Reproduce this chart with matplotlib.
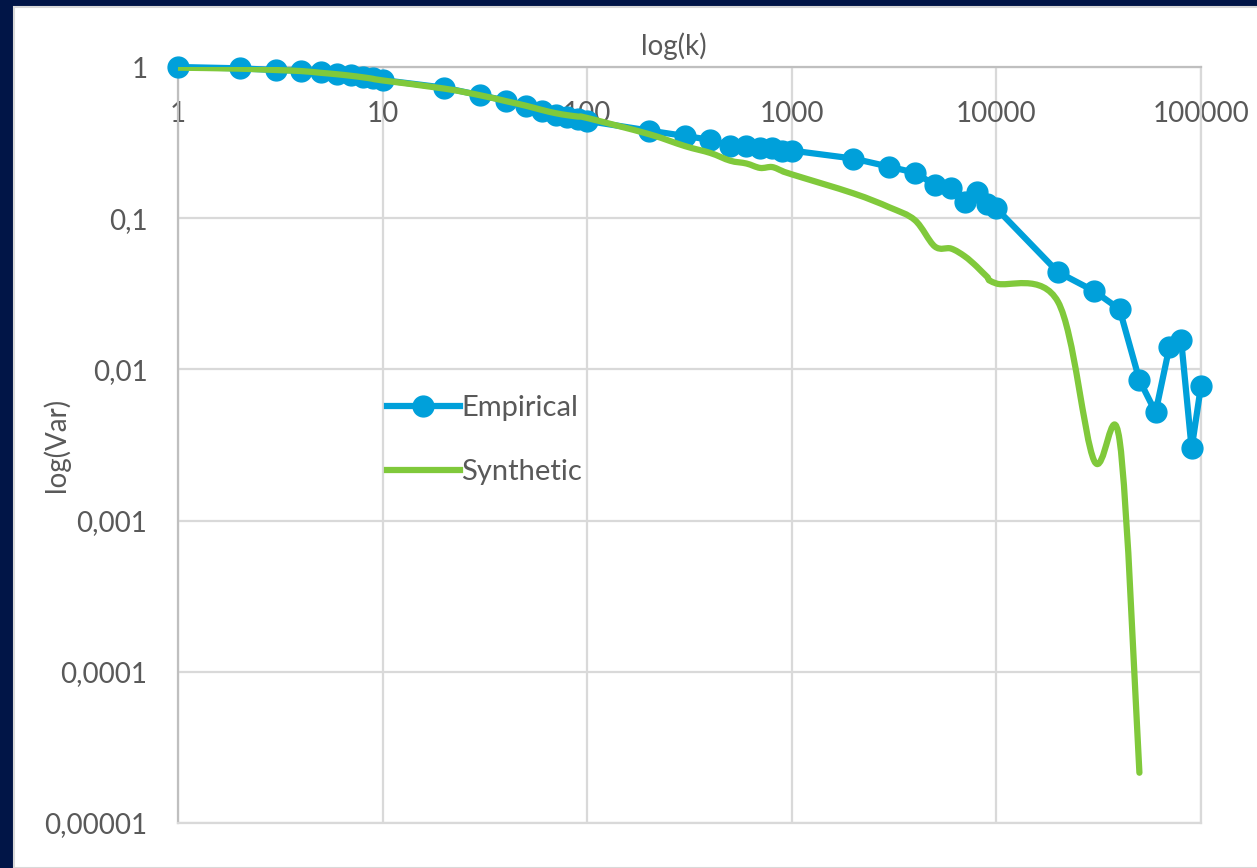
import numpy as np
import matplotlib
matplotlib.use("Agg")
import matplotlib.pyplot as plt
from matplotlib.path import Path
from matplotlib.patches import PathPatch, Rectangle
from matplotlib.lines import Line2D
from matplotlib.ticker import FixedLocator, FixedFormatter, NullLocator

# k values (log axis)
k_emp = [1, 2, 3, 4, 5, 6, 7, 8, 9, 10,
         20, 30, 40, 50, 60, 70, 80, 90, 100,
         200, 300, 400, 500, 600, 700, 800, 900, 1000,
         2000, 3000, 4000, 5000, 6000, 7000, 8000, 9000, 10000,
         20000, 30000, 40000, 50000, 60000, 70000, 80000, 90000, 100000]
var_emp = [1.0, 0.98, 0.955, 0.945, 0.92, 0.90, 0.88, 0.86, 0.84, 0.82,
           0.73, 0.65, 0.60, 0.55, 0.51, 0.48, 0.47, 0.45, 0.44,
           0.38, 0.35, 0.33, 0.30, 0.30, 0.29, 0.29, 0.28, 0.28,
           0.248, 0.219, 0.20, 0.166, 0.158, 0.128, 0.149, 0.125, 0.116,
           0.044, 0.033, 0.025, 0.0085, 0.0052, 0.014, 0.0156, 0.0030, 0.0078]

k_syn = [1, 2, 3, 4, 5, 6, 7, 8, 9, 10,
         20, 30, 40, 50, 60, 70, 80, 90, 100,
         200, 300, 400, 500, 600, 700, 800, 900, 1000,
         2000, 3000, 4000, 5000, 6000, 7000, 8000, 9000, 10000,
         20000, 30000, 40000, 50000]
var_syn = [0.99, 0.975, 0.955, 0.94, 0.915, 0.895, 0.875, 0.855, 0.835, 0.815,
           0.72, 0.65, 0.595, 0.555, 0.52, 0.495, 0.48, 0.47, 0.46,
           0.36, 0.30, 0.27, 0.24, 0.23, 0.215, 0.218, 0.205, 0.195,
           0.146, 0.118, 0.097, 0.065, 0.063, 0.056, 0.048, 0.041, 0.037,
           0.028, 0.0025, 0.0034, 0.0000215]

x_ticks = [1, 10, 100, 1000, 10000, 100000]
x_labels = ['1', '10', '100', '1000', '10000', '100000']
y_ticks = [0.00001, 0.0001, 0.001, 0.01, 0.1, 1]
y_labels = ['0,00001', '0,0001', '0,001', '0,01', '0,1', '1']

BLUE = '#00a0da'
GREEN = '#80c93b'
TXT = '#595959'
NAVY = '#011547'

plt.rcParams['font.family'] = ['Lato', 'DejaVu Sans']


def smooth_path(x, y):
    # excel style smoothed line: cubic bezier through the points in log space
    p = np.column_stack([np.log10(x), np.log10(y)])
    n = len(p)
    verts = [p[0]]
    codes = [Path.MOVETO]
    for i in range(n - 1):
        p0 = p[max(i - 1, 0)]
        p1 = p[i]
        p2 = p[i + 1]
        p3 = p[min(i + 2, n - 1)]
        verts += [p1 + (p2 - p0) / 6, p2 - (p3 - p1) / 6, p2]
        codes += [Path.CURVE4] * 3
    return Path(10 ** np.array(verts), codes)


fig = plt.figure(figsize=(12.57, 8.68), dpi=100)
fig.patch.set_facecolor(NAVY)
fig.patches.append(Rectangle((14 / 1257, 0), 1, 1 - 7 / 868, transform=fig.transFigure,
                             facecolor='white', edgecolor='#d9d9d9', lw=1.5, zorder=-10))

ax = fig.add_axes([178 / 1257, 1 - 823 / 868, 1023 / 1257, 756 / 868])
ax.set_facecolor('white')
ax.set_xscale('log')
ax.set_yscale('log')

ax.plot(k_emp, var_emp, color=BLUE, lw=4.5, marker='o', markersize=15,
        markeredgecolor=BLUE, zorder=4, solid_joinstyle='round', clip_on=False)
ax.add_patch(PathPatch(smooth_path(k_syn, var_syn), facecolor='none', edgecolor=GREEN,
                       lw=4.5, capstyle='round', joinstyle='round', zorder=5))

ax.set_xlim(1, 100000)
ax.set_ylim(0.00001, 1)

ax.xaxis.set_major_locator(FixedLocator(x_ticks))
ax.xaxis.set_major_formatter(FixedFormatter(x_labels))
ax.xaxis.set_minor_locator(NullLocator())
ax.yaxis.set_major_locator(FixedLocator(y_ticks))
ax.yaxis.set_major_formatter(FixedFormatter(y_labels))
ax.yaxis.set_minor_locator(NullLocator())

ax.xaxis.set_ticks_position('top')
ax.tick_params(axis='x', length=0, pad=-43, labelsize=20, labelcolor=TXT)
ax.tick_params(axis='y', length=0, pad=22, labelsize=20, labelcolor=TXT)

ax.grid(True, color='#d9d9d9', lw=1.6, zorder=0)
ax.set_axisbelow(True)
for s in ['left', 'top']:
    ax.spines[s].set_color('#bfbfbf')
    ax.spines[s].set_linewidth(1.6)
for s in ['right', 'bottom']:
    ax.spines[s].set_color('#d9d9d9')
    ax.spines[s].set_linewidth(1.6)

ax.xaxis.set_label_position('top')
ax.set_xlabel('log(k)', fontsize=20, color=TXT)
ax.xaxis.set_label_coords(0.485, 1.016)
ax.set_ylabel('log(Var)', fontsize=20, color=TXT)
ax.yaxis.set_label_coords(-0.106, 0.5)

handles = [Line2D([], [], color=BLUE, lw=4.5, marker='o', markersize=15),
           Line2D([], [], color=GREEN, lw=4.5)]
leg = ax.legend(handles, ['Empirical', 'Synthetic'], loc='upper left',
                bbox_to_anchor=(0.19, 0.585), frameon=False, fontsize=21,
                handlelength=2.5, handletextpad=0.05, labelspacing=1.3, borderpad=0)
for t in leg.get_texts():
    t.set_color(TXT)

fig.savefig('out.png', dpi=100, facecolor=fig.get_facecolor())
